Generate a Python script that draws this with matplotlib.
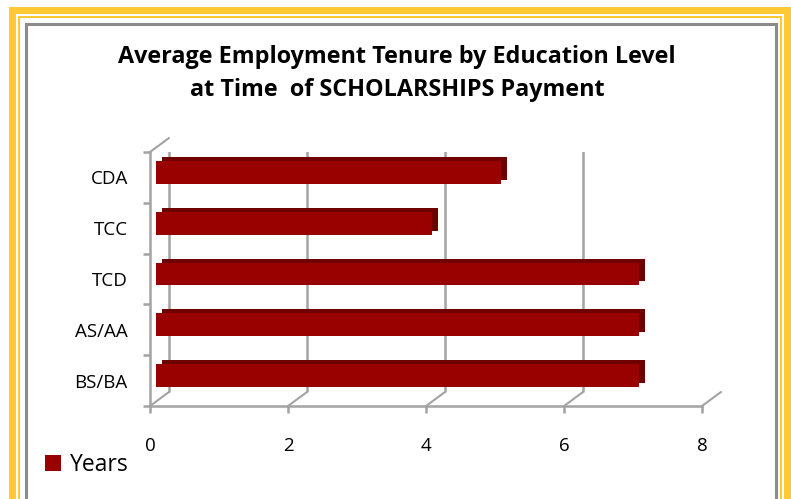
import matplotlib.pyplot as plt
from matplotlib.patches import Rectangle
from matplotlib.transforms import ScaledTranslation

categories = ['BS/BA', 'AS/AA', 'TCD', 'TCC', 'CDA']
years = [7, 7, 7, 4, 5]
x_ticks = [0, 2, 4, 6, 8]
title_lines = ['Average Employment Tenure by Education Level',
               'at Time  of SCHOLARSHIPS Payment']
series_name = 'Years'

W, H = 791, 499
plt.rcParams['font.family'] = ['Open Sans', 'DejaVu Sans']
fig = plt.figure(figsize=(W / 100, H / 100), dpi=100)


def box(x0, y0, x1, y1, z, **kw):
    # pixel box measured from the top-left corner
    fig.add_artist(Rectangle((x0 / W, 1 - y1 / H), (x1 - x0) / W, (y1 - y0) / H,
                             transform=fig.transFigure, zorder=z, **kw))


yellow = '#FFC933'
box(9, 7, 820, 540, -10, facecolor=yellow, edgecolor='none')
box(16, 14, 784, 540, -9, facecolor='white', edgecolor='none')
box(18, 16, 782, 540, -8, facecolor=yellow, edgecolor='none')
box(20, 18, 780, 540, -7, facecolor='white', edgecolor='none')
box(25.5, 23.5, 775.5, 540, -6, facecolor='white', edgecolor='#8c8c8c', lw=2.2)

ax = fig.add_axes([150 / W, 1 - 406 / H, 552 / W, 254 / H])
ax.patch.set_visible(False)
ax.set_xlim(0, 8)
ax.set_ylim(-0.5, 4.5)

grey = '#a3a3a3'
back = ax.transData + ScaledTranslation(19 / 100, 14 / 100, fig.dpi_scale_trans)
ax.vlines(x_ticks, -0.5, 4.5, transform=back, color=grey, lw=1.8, zorder=1)
for t in x_ticks:
    ax.annotate('', xy=(t, -0.5), xytext=(19, 14), textcoords='offset pixels',
                arrowprops=dict(arrowstyle='-', color=grey, lw=1.5, shrinkA=0, shrinkB=0),
                annotation_clip=False)
ax.annotate('', xy=(0, 4.5), xytext=(19, 14), textcoords='offset pixels',
            arrowprops=dict(arrowstyle='-', color=grey, lw=1.5, shrinkA=0, shrinkB=0),
            annotation_clip=False)

pos = list(range(len(categories)))
depth = ax.transData + ScaledTranslation(12 / 100, 9 / 100, fig.dpi_scale_trans)
face = ax.transData + ScaledTranslation(6 / 100, 5 / 100, fig.dpi_scale_trans)
ax.barh(pos, years, height=0.45, color='#6e0000', transform=depth, zorder=2)
bars = ax.barh(pos, years, height=0.45, color='#990000', transform=face, zorder=3)
ax.set_xlim(0, 8)
ax.set_ylim(-0.5, 4.5)

for s in ['top', 'right']:
    ax.spines[s].set_visible(False)
for s in ['bottom', 'left']:
    ax.spines[s].set_color(grey)
    ax.spines[s].set_linewidth(1.8)

ax.set_xticks(x_ticks)
ax.set_xticklabels([str(t) for t in x_ticks], fontsize=13.5)
ax.tick_params(axis='x', length=5, width=1.8, color=grey, pad=17)
ax.set_yticks(pos)
ax.set_yticklabels(categories, fontsize=13.5)
ax.tick_params(axis='y', which='major', length=0, pad=16)
ax.set_yticks([p - 0.5 for p in pos] + [4.5], minor=True)
ax.tick_params(axis='y', which='minor', length=5, width=1.8, color=grey)

fig.text(397 / W, 1 - 57 / H, title_lines[0], ha='center', va='center',
         fontsize=16.8, fontweight='bold')
fig.text(397 / W, 1 - 90 / H, title_lines[1], ha='center', va='center',
         fontsize=16.8, fontweight='bold')

fig.legend([bars], [series_name], loc='upper left', bbox_to_anchor=(45 / W, 1 - 453 / H),
           frameon=False, fontsize=16.5, handlelength=0.7, handleheight=0.7,
           borderpad=0, borderaxespad=0, handletextpad=0.4)

fig.savefig('out.png', dpi=100)
